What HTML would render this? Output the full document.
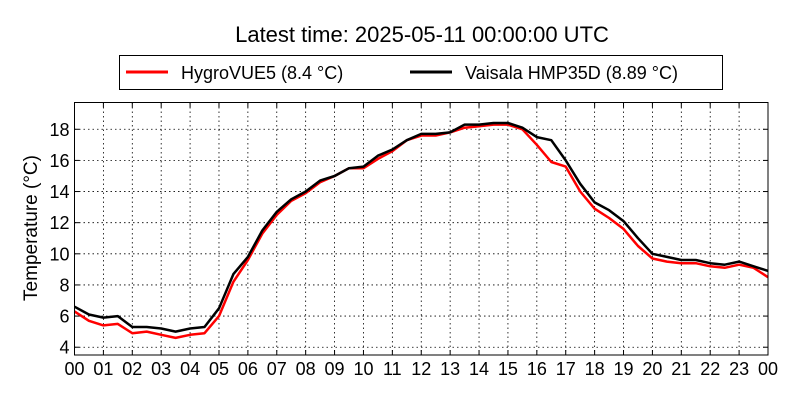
<!DOCTYPE html>
<html><head><meta charset="utf-8"><style>
body{margin:0;background:#fff;}
svg text{font-family:"Liberation Sans","DejaVu Sans",sans-serif;fill:#000;}
</style></head><body>
<svg id="chart" width="800" height="400" xmlns="http://www.w3.org/2000/svg">
<rect width="800" height="400" fill="#fff"/>
<text x="422" y="42" font-size="22" text-anchor="middle">Latest time: 2025-05-11 00:00:00 UTC</text>
<g>
<rect x="119.5" y="55.5" width="603" height="34" fill="#fff" stroke="#000" stroke-width="1"/>
<g>
<line x1="126" y1="72" x2="168" y2="72" stroke="#f00" stroke-width="3"/>
<text x="181" y="79" font-size="18">HygroVUE5 (8.4 °C)</text></g>
<g>
<line x1="410" y1="72" x2="452" y2="72" stroke="#000" stroke-width="3"/>
<text x="465" y="79" font-size="18">Vaisala HMP35D (8.89 °C)</text></g>
</g>
<g id="grid"></g>
<g id="series"></g>
<g id="axes"></g>
<text transform="translate(37,228) rotate(-90)" font-size="19" text-anchor="middle">Temperature (°C)</text>
</svg>
<script>
const hours = [0,0.5,1,1.5,2,2.5,3,3.5,4,4.5,5,5.5,6,6.5,7,7.5,8,8.5,9,9.5,10,10.5,11,11.5,12,12.5,13,13.5,14,14.5,15,15.5,16,16.5,17,17.5,18,18.5,19,19.5,20,20.5,21,21.5,22,22.5,23,23.5,24];
const hygroVUE5 = [6.3,5.7,5.4,5.5,4.9,5.0,4.8,4.6,4.8,4.9,6.0,8.2,9.6,11.3,12.5,13.4,13.9,14.6,15.0,15.5,15.5,16.1,16.6,17.3,17.6,17.6,17.8,18.1,18.2,18.3,18.3,18.0,17.0,15.9,15.6,14.0,12.9,12.3,11.6,10.5,9.7,9.5,9.4,9.4,9.2,9.1,9.3,9.1,8.5];
const hmp35d = [6.6,6.1,5.9,6.0,5.3,5.3,5.2,5.0,5.2,5.3,6.5,8.7,9.8,11.5,12.7,13.5,14.0,14.7,15.0,15.5,15.6,16.3,16.7,17.3,17.7,17.7,17.8,18.3,18.3,18.4,18.4,18.1,17.5,17.3,16.0,14.5,13.3,12.8,12.1,11.0,10.0,9.8,9.6,9.6,9.4,9.3,9.5,9.2,8.9];
const yTicks = [4,6,8,10,12,14,16,18];
const xTickLabels = ["00","01","02","03","04","05","06","07","08","09","10","11","12","13","14","15","16","17","18","19","20","21","22","23","00"];

const L=74.5,R=768,T=102.5,B=355;
const yMin=3.5,yMax=19.72;
const xs=h=>L+(R-L)*h/24;
const ys=v=>B-(B-T)*(v-yMin)/(yMax-yMin);
const NS="http://www.w3.org/2000/svg";
const grid=document.getElementById('grid'),series=document.getElementById('series'),axes=document.getElementById('axes');
function mk(tag,attrs,parent){const e=document.createElementNS(NS,tag);for(const k in attrs)e.setAttribute(k,attrs[k]);parent.appendChild(e);return e;}

yTicks.forEach(v=>{
 const y=ys(v);
 const g=mk('line',{x1:L,x2:R,y1:y,y2:y,stroke:'#000','stroke-width':0.8,'stroke-dasharray':'1.5,3'},grid);
 
 
 const t1=mk('line',{x1:L,x2:L+5,y1:y,y2:y,stroke:'#000'},axes);
 
 
 const t2=mk('line',{x1:R-5,x2:R,y1:y,y2:y,stroke:'#000'},axes);
 
 
 const tx=mk('text',{x:L-5,y:y+6.5,'font-size':18,'text-anchor':'end'},axes);
 tx.textContent=v;
 
 
});
xTickLabels.forEach((lab,i)=>{
 const x=xs(i);
 if(i>0&&i<24){
  const g=mk('line',{x1:x,x2:x,y1:T,y2:B,stroke:'#000','stroke-width':0.8,'stroke-dasharray':'1.5,3'},grid);
  
  
 }
 const t1=mk('line',{x1:x,x2:x,y1:B,y2:B-5,stroke:'#000'},axes);
 
 
 const t2=mk('line',{x1:x,x2:x,y1:T,y2:T+5,stroke:'#000'},axes);
 
 
 const tx=mk('text',{x:x,y:B+20,'font-size':18,'text-anchor':'middle'},axes);
 tx.textContent=lab;
 
 
});
function line(vals,color,name){
 const d=vals.map((v,i)=>(i?'L':'M')+xs(hours[i]).toFixed(1)+','+ys(v).toFixed(1)).join(' ');
 const p=mk('path',{d:d,fill:'none',stroke:color,'stroke-width':2.5,'stroke-linejoin':'round'},series);
 
 
}
line(hygroVUE5,'#f00','hygrovue5-line');
line(hmp35d,'#000','hmp35d-line');
const fr=mk('rect',{x:L,y:T,width:R-L,height:B-T,fill:'none',stroke:'#000','stroke-width':1},axes);


</script>
</body></html>
